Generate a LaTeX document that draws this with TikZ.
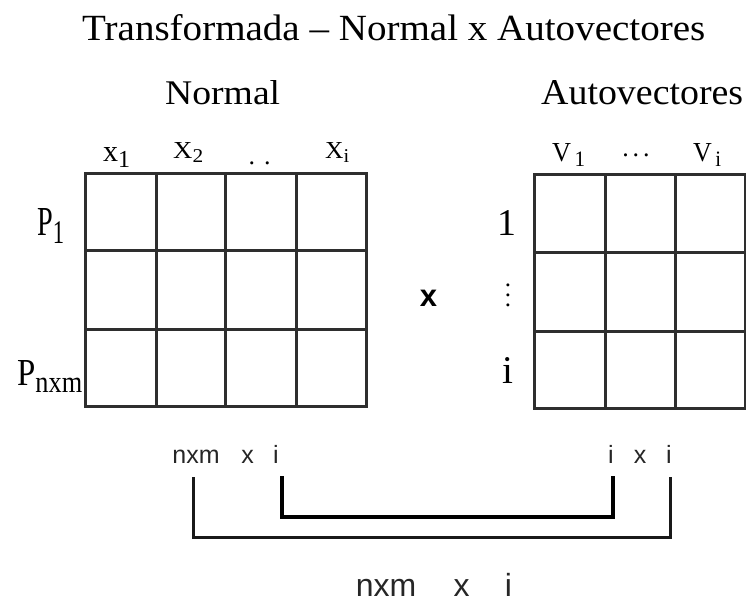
\documentclass[tikz,border=0pt]{standalone}
\usepackage{fontspec}
\setmainfont{Liberation Serif}
\newfontfamily\sansf{Liberation Sans}
\newcommand\fitbox[3]{\resizebox{#1pt}{#2pt}{#3}}
\newcommand\subl[2]{#1{\fontsize{8}{8}\selectfont\raisebox{-2pt}{#2}}}
\tikzset{
  lbl/.style={inner sep=0pt, anchor=base west},
  clbl/.style={inner sep=0pt, anchor=base},
  gridl/.style={line width=3pt, draw=black!82, line cap=rect},
  dimlbl/.style={inner sep=0pt, anchor=base, font=\sansf\fontsize{25}{25}\selectfont, text=black!85},
  reslbl/.style={inner sep=0pt, anchor=base, font=\sansf\fontsize{32}{32}\selectfont, text=black!85},
  outerbr/.style={line width=3pt, draw=black!90, line join=miter, line cap=rect},
  innerbr/.style={line width=4pt, draw=black, line join=miter, line cap=rect}
}
\begin{document}
\begin{tikzpicture}[x=1pt,y=-1pt]
\useasboundingbox (0,0) rectangle (746,603);
% titles
\node[lbl] (title) at (82,40) {\fitbox{623}{26}{Transformada – Normal x Autovectores}};
\node[lbl] (hN) at (165,104) {\fitbox{115}{24}{Normal}};
\node[lbl] (hA) at (541,104) {\fitbox{202}{24}{Autovectores}};
% left matrix
\draw[gridl] (85,173) rectangle (366,406);
\foreach \x in {156,225,296} \draw[gridl] (\x,173) -- (\x,406);
\foreach \y in {250,329} \draw[gridl] (85,\y) -- (366,\y);
% right matrix
\draw[gridl] (534,174) rectangle (745,408);
\foreach \x in {605,675} \draw[gridl] (\x,174) -- (\x,408);
\foreach \y in {252,331} \draw[gridl] (534,\y) -- (745,\y);
% column labels
\node[lbl] (c1) at (103,161) {\fitbox{27}{14}{\subl{x}{1}}};
\node[lbl] (c2) at (173,158) {\fitbox{30}{16}{\subl{X}{2}}};
\node[clbl] (c3) at (259.5,164) {\fontsize{26}{26}\selectfont .\hspace{9pt}.};
\node[lbl] (c4) at (325,158) {\fitbox{24}{16}{\subl{X}{i}}};
\node[lbl] (v1) at (552,161) {\fitbox{33}{18}{\subl{V}{\,1}}};
\node[clbl] (v2) at (636,156) {\fontsize{26}{26}\selectfont .\hspace{4pt}.\hspace{4pt}.};
\node[lbl] (v3) at (693,161) {\fitbox{28}{18}{\subl{V}{\,i}}};
% row labels
\node[lbl] (p1) at (37,235) {\fitbox{27}{27}{\subl{P}{1}}};
\node[lbl] (p2) at (17,385) {\fitbox{65}{25}{\subl{P}{nxm}}};
\node[clbl] (r1) at (507,235) {\resizebox{!}{25pt}{1}};
\node[clbl] (r2) at (508,306) {\scalebox{2.5}{$\vdots$}};
\node[clbl] (r3) at (508,383) {\resizebox{!}{26pt}{i}};
% multiplication sign
\node[clbl] (times) at (428.5,306) {\sansf\bfseries\fontsize{31}{31}\selectfont x};
% dimension labels
\node[dimlbl] (nA) at (196,463) {nxm};
\node[dimlbl] (xA) at (247.5,463) {x};
\node[dimlbl] (iA) at (276,463) {i};
\node[dimlbl] (iB) at (611,463) {i};
\node[dimlbl] (xB) at (640,463) {x};
\node[dimlbl] (iC) at (669,463) {i};
% result
\node[reslbl] (nR) at (386,596) {nxm};
\node[reslbl] (xR) at (461.5,596) {x};
\node[reslbl] (iR) at (508.5,596) {i};
% brackets
\coordinate (top) at (0,478);
\coordinate (ob) at (0,537);
\coordinate (ib) at (0,517);
\path ([xshift=-3pt]nA.south) coordinate (oL) ([xshift=1pt]iC.south) coordinate (oR)
      ([xshift=6pt]iA.south) coordinate (inL) ([xshift=2pt]iB.south) coordinate (inR);
\draw[outerbr] (oL |- top) -- (oL |- ob) -- (oR |- ob) -- (oR |- top);
\draw[innerbr] (inL |- top) -- (inL |- ib) -- (inR |- ib) -- (inR |- top);
\end{tikzpicture}
\end{document}
